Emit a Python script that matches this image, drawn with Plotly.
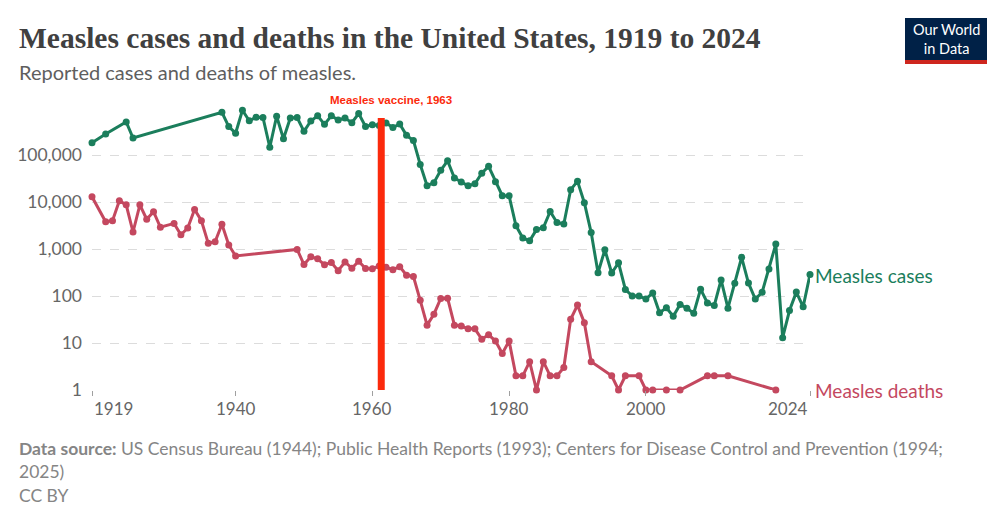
import plotly.graph_objects as go

# ---------------- data ----------------
cases_years = [1919, 1921, 1924, 1925] + list(range(1938, 2025))
cases = [182000, 280000, 504000, 230000,
         808908, 403317, 291162, 894134, 534064, 633678, 630291, 146013, 669162, 222375,
         615104, 624563, 319124, 530118, 683077, 449146, 682720, 555156, 611936, 486799,
         763094, 406162, 441703, 423919, 481530, 385156, 458083, 261904, 204136, 62705,
         22231, 25826, 47351, 75290, 32275, 26690, 22094, 24374, 41126, 57345,
         26871, 13597, 13506, 3124, 1714, 1497, 2587, 2822, 6282, 3655,
         3396, 18193, 27786, 9643, 2237, 312, 963, 309, 508, 138,
         100, 100, 86, 116, 44, 56, 37, 66, 55, 43,
         140, 71, 63, 220, 55, 187, 667, 188, 86, 120,
         375, 1274, 13, 49, 121, 59, 285]

deaths_years = ([1919] + list(range(1921, 1930)) + list(range(1931, 1941)) +
                list(range(1949, 1993)) + [1995, 1996, 1997, 1999, 2000, 2001, 2003, 2005,
                                           2009, 2010, 2012, 2019])
deaths = [12900, 3800, 4000, 10600, 8700, 2300, 8700, 4300, 6200, 2900,
          3500, 2000, 2800, 6950, 4000, 1320, 1430, 3370, 1220, 710,
          980, 468, 683, 618, 462, 518, 345, 530, 389, 552,
          385, 380, 434, 408, 364, 421, 276, 261, 81, 24,
          41, 89, 90, 24, 23, 20, 20, 12, 15, 11,
          6, 11, 2, 2, 4, 1, 4, 2, 2, 3,
          32, 64, 27, 4,
          2, 1, 2, 2, 1, 1, 1, 1, 2, 2, 2, 1]

x_ticks = [1919, 1940, 1960, 1980, 2000, 2024]
y_ticks = [1, 10, 100, 1000, 10000, 100000]
y_tick_labels = ["1", "10", "100", "1,000", "10,000", "100,000"]

vaccine_label = "Measles vaccine, 1963"
vaccine_x = [1961.3, 1961.3]
vaccine_y = [1, 612000]

title = "Measles cases and deaths in the United States, 1919 to 2024"
subtitle = "Reported cases and deaths of measles."
source = ("<b>Data source:</b> US Census Bureau (1944); Public Health Reports (1993); "
          "Centers for Disease Control and Prevention (1994;<br>2025)")
license_text = "CC BY"

# ---------------- styling ----------------
GREEN = "#1b7e5c"
RED = "#c4485f"
VAC = "#fb2a0c"
W, H = 1000, 514
L, R, T, B = 92, 810, 100, 390
DECADE = 47.0


def px_x(px):
    return (px - L) / (R - L)


def px_y(py):
    return (B - py) / (B - T)


fig = go.Figure()
fig.add_trace(go.Scatter(x=cases_years, y=cases, mode="lines+markers",
                         line=dict(color=GREEN, width=3), marker=dict(color=GREEN, size=7),
                         cliponaxis=False, showlegend=False))
fig.add_trace(go.Scatter(x=deaths_years, y=deaths, mode="lines+markers",
                         line=dict(color=RED, width=3), marker=dict(color=RED, size=7),
                         cliponaxis=False, showlegend=False))
fig.add_trace(go.Scatter(x=vaccine_x, y=vaccine_y, mode="lines",
                         line=dict(color=VAC, width=7), cliponaxis=False, showlegend=False))

ann = []
ann.append(dict(text="<b>" + title + "</b>", x=px_x(17), y=px_y(38), xref="paper", yref="paper",
                xanchor="left", yanchor="middle", showarrow=False,
                font=dict(family="Liberation Serif, DejaVu Serif, serif", size=29.5, color="#404040")))
ann.append(dict(text=subtitle, x=px_x(17), y=px_y(72), xref="paper", yref="paper",
                xanchor="left", yanchor="middle", showarrow=False,
                font=dict(family="Lato", size=20, color="#5e5e5e")))
ann.append(dict(text=source, x=px_x(17), y=px_y(436), xref="paper", yref="paper",
                xanchor="left", yanchor="top", align="left", showarrow=False,
                font=dict(family="Lato", size=17.5, color="#858585")))
ann.append(dict(text=license_text, x=px_x(17), y=px_y(495), xref="paper", yref="paper",
                xanchor="left", yanchor="middle", showarrow=False,
                font=dict(family="Lato", size=17.5, color="#858585")))
ann.append(dict(text="<b>" + vaccine_label + "</b>", x=vaccine_x[0], y=px_y(100),
                xref="x", yref="paper", xanchor="center", yanchor="middle", xshift=10,
                showarrow=False,
                font=dict(family="Liberation Sans Narrow, Arial Narrow, sans-serif", size=11.5, color=VAC)))
ann.append(dict(text="Measles cases", x=cases_years[-1], y=px_y(275), xref="x", yref="paper",
                xanchor="left", yanchor="middle", xshift=3, showarrow=False,
                font=dict(family="Lato", size=19, color=GREEN)))
ann.append(dict(text="Measles deaths", x=cases_years[-1], y=px_y(390), xref="x", yref="paper",
                xanchor="left", yanchor="middle", xshift=3, showarrow=False,
                font=dict(family="Lato", size=19, color=RED)))
for i, t in enumerate(x_ticks):
    anchor = "left" if i == 0 else ("right" if i == len(x_ticks) - 1 else "center")
    ann.append(dict(text=str(t), x=t, y=px_y(408), xref="x", yref="paper",
                    xanchor=anchor, yanchor="middle", showarrow=False,
                    font=dict(family="Lato", size=17, color="#666666")))
# logo text
ann.append(dict(text="Our World<br>in Data", x=px_x(946), y=px_y(39), xref="paper", yref="paper",
                xanchor="center", yanchor="middle", showarrow=False, align="center",
                font=dict(family="Lato", size=14.5, color="white")))

shapes = [
    dict(type="rect", xref="paper", yref="paper", x0=px_x(905), x1=px_x(987),
         y0=px_y(64), y1=px_y(18), fillcolor="#002147", line=dict(width=0), layer="above"),
    dict(type="rect", xref="paper", yref="paper", x0=px_x(905), x1=px_x(987),
         y0=px_y(64), y1=px_y(60), fillcolor="#ce261e", line=dict(width=0), layer="above"),
]

fig.update_layout(
    width=W, height=H, autosize=False,
    margin=dict(l=L, r=W - R, t=T, b=H - B),
    paper_bgcolor="white", plot_bgcolor="white",
    annotations=ann, shapes=shapes,
    xaxis=dict(range=[1919, 2024], showgrid=False, zeroline=False, showline=False,
               tickvals=x_ticks, showticklabels=False, ticks="outside", ticklen=5,
               tickcolor="#a0a0a0", tickwidth=1),
    yaxis=dict(type="log", range=[0, (B - T) / DECADE], tickvals=y_ticks, ticktext=y_tick_labels,
               showgrid=True, gridcolor="#dcdcdc", griddash="dash", gridwidth=1,
               zeroline=False, showline=False, ticks="", ticklabelstandoff=9,
               tickfont=dict(family="Lato", size=17.5, color="#666666")),
)

fig.write_html("out.html")
